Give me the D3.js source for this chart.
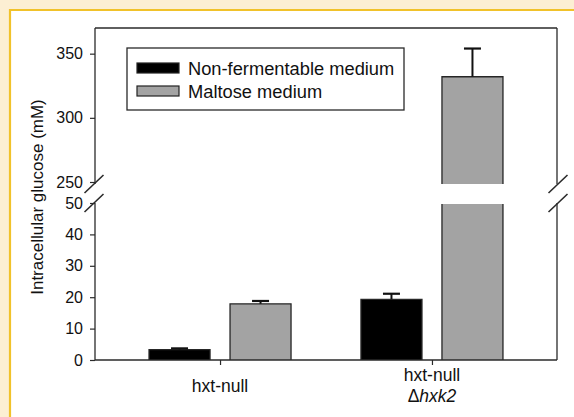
<!DOCTYPE html>
<html>
<head>
<meta charset="utf-8">
<script src="https://cdn.jsdelivr.net/npm/d3@7"></script>
<style>
  html, body { margin: 0; padding: 0; background: #fcefd3; }
  svg { display: block; }
  text { font-family: "Liberation Sans", Arial, Helvetica, sans-serif; fill: #111; }
</style>
</head>
<body>
<svg id="chart" width="574" height="417"></svg>
<script>
// ---- data ----
const groups = ["hxt-null", "hxt-null|Δhxk2"];
const seriesNames = ["Non-fermentable medium", "Maltose medium"];
const seriesColors = ["#000000", "#a3a3a3"];
const nonFermValues = [3.3, 19.3];
const nonFermErrors = [0.4, 1.8];
const maltoseValues = [17.9, 332];
const maltoseErrors = [0.9, 22];
const lowerTicks = [0, 10, 20, 30, 40, 50];
const upperTicks = [250, 300, 350];
const yTitle = "Intracellular glucose (mM)";

// ---- layout ----
const W = 574, H = 417;
const mLeft = 95, mRight = 557, mTop = 28, mBottom = 360;
const svg = d3.select("#chart");

// background panel with yellow border on top/left
svg.append("rect").attr("x", 0).attr("y", 0).attr("width", W).attr("height", H).attr("fill", "#fcefd3");
svg.append("rect").attr("x", 10).attr("y", 10).attr("width", W - 10).attr("height", H - 10).attr("fill", "#ffffff");
svg.append("line").attr("x1", 9).attr("x2", W).attr("y1", 10).attr("y2", 10).attr("stroke", "#f1c22a").attr("stroke-width", 2.2);
svg.append("line").attr("x1", 10).attr("x2", 10).attr("y1", 9).attr("y2", H).attr("stroke", "#f1c22a").attr("stroke-width", 2.2);

// scales
const x = d3.scalePoint().domain(groups).range([mLeft, mRight]).padding(0.59);
const yLow = d3.scaleLinear().domain([0, 50]).range([mBottom, 203]);
const yUp = d3.scaleLinear().domain([250, 370]).range([182, mTop]);
const barW = 61, gap = 20;
const series = [
  {name: seriesNames[0], color: seriesColors[0], values: nonFermValues, errors: nonFermErrors, off: -(gap / 2 + barW)},
  {name: seriesNames[1], color: seriesColors[1], values: maltoseValues, errors: maltoseErrors, off: gap / 2}
];

function yOf(v) { return v <= 50 ? yLow(v) : (v >= 250 ? yUp(v) : null); }

const axisColor = "#2a2a2a";
const breakLow = yLow(50), breakUp = yUp(250) + 2;

// bars
const bars = svg.append("g");
series.forEach(s => {
  groups.forEach((g, i) => {
    const v = s.values[i];
    const x0 = x(g) + s.off;
    const pieces = [];
    if (v <= 50) {
      pieces.push({y0: yLow(0), y1: yLow(v), topEdge: true});
    } else {
      pieces.push({y0: yLow(0), y1: yLow(50) + 1, topEdge: false});
      pieces.push({y0: breakUp, y1: yUp(v), topEdge: true});
    }
    pieces.forEach(p => {
      bars.append("rect").attr("x", x0).attr("y", p.y1).attr("width", barW)
        .attr("height", p.y0 - p.y1).attr("fill", s.color);
      const path = d3.path();
      path.moveTo(x0, p.y0); path.lineTo(x0, p.y1);
      if (p.topEdge) path.lineTo(x0 + barW, p.y1); else path.moveTo(x0 + barW, p.y1);
      path.lineTo(x0 + barW, p.y0);
      bars.append("path").attr("d", path.toString()).attr("fill", "none")
        .attr("stroke", "#262626").attr("stroke-width", 1.3);
    });
    // error bar (upper only)
    const cx = x0 + barW / 2;
    const ye = yOf(v + s.errors[i]);
    bars.append("line").attr("x1", cx).attr("x2", cx).attr("y1", yOf(v)).attr("y2", ye)
      .attr("stroke", "#111").attr("stroke-width", 2);
    bars.append("line").attr("x1", cx - 8.5).attr("x2", cx + 8.5).attr("y1", ye).attr("y2", ye)
      .attr("stroke", "#111").attr("stroke-width", 2.2);
  });
});

// frame lines
const frame = svg.append("g").attr("stroke", axisColor).attr("stroke-width", 1.3).attr("fill", "none");
frame.append("line").attr("x1", mLeft).attr("x2", mRight).attr("y1", mTop).attr("y2", mTop);
frame.append("line").attr("x1", mLeft).attr("x2", mRight).attr("y1", mBottom).attr("y2", mBottom);
[mLeft, mRight].forEach(ax => {
  frame.append("line").attr("x1", ax).attr("x2", ax).attr("y1", mTop).attr("y2", breakUp);
  frame.append("line").attr("x1", ax).attr("x2", ax).attr("y1", breakLow).attr("y2", mBottom);
});
// break slashes
[mLeft - 1, mRight + 1].forEach(cx => {
  [breakUp, breakLow].forEach(cy => {
    frame.append("line").attr("x1", cx - 9.5).attr("y1", cy + 9).attr("x2", cx + 9.5).attr("y2", cy - 9)
      .attr("stroke-width", 1.6);
  });
});

// y axes
function styleAxis(g) {
  g.select(".domain").remove();
  g.selectAll(".tick line").attr("stroke", axisColor).attr("stroke-width", 1.2);
  g.selectAll(".tick text").attr("font-size", "16px").attr("fill", "#111")
    .style("font-family", '"Liberation Sans", Arial, sans-serif');
}
svg.append("g").attr("transform", `translate(${mLeft},0)`)
  .call(d3.axisLeft(yLow).tickValues(lowerTicks).tickSize(5).tickPadding(7).tickFormat(d3.format("d")))
  .call(styleAxis);
svg.append("g").attr("transform", `translate(${mLeft},0)`)
  .call(d3.axisLeft(yUp).tickValues(upperTicks).tickSize(5).tickPadding(7).tickFormat(d3.format("d")))
  .call(styleAxis);

// x axis ticks and labels
const xa = svg.append("g").attr("transform", `translate(0,${mBottom})`)
  .call(d3.axisBottom(x).tickSize(5).tickFormat(""));
xa.select(".domain").remove();
xa.selectAll(".tick line").attr("stroke", axisColor).attr("stroke-width", 1.2);

groups.forEach(g => {
  const lines = g.split("|");
  const t = svg.append("text").attr("text-anchor", "middle").attr("font-size", "17.5px");
  const base = lines.length === 1 ? 392 : 381;
  lines.forEach((ln, k) => {
    const ts = t.append("tspan").attr("x", x(g)).attr("y", base + k * 21);
    if (ln.startsWith("Δ")) {
      ts.append("tspan").text("Δ");
      ts.append("tspan").attr("font-style", "italic").text(ln.slice(1));
    } else {
      ts.text(ln);
    }
  });
});

// y title
svg.append("text").attr("transform", `translate(43,197) rotate(-90)`)
  .attr("text-anchor", "middle").attr("font-size", "17px").text(yTitle);

// legend
const lg = svg.append("g");
lg.append("rect").attr("x", 127).attr("y", 48).attr("width", 277).attr("height", 62)
  .attr("fill", "#fff").attr("stroke", axisColor).attr("stroke-width", 1.3);
series.forEach((s, i) => {
  const yy = 63 + i * 23;
  lg.append("rect").attr("x", 137).attr("y", yy).attr("width", 42).attr("height", 10)
    .attr("fill", s.color).attr("stroke", "#222").attr("stroke-width", 1.2);
  lg.append("text").attr("x", 188).attr("y", yy + 11.5).attr("font-size", "18.3px").text(s.name);
});
</script>
</body>
</html>
